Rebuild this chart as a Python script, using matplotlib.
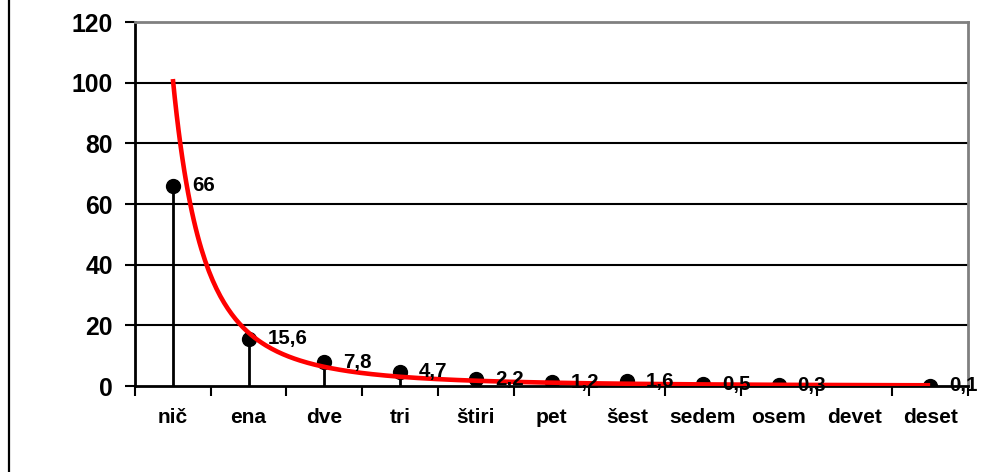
import numpy as np
import matplotlib
matplotlib.use("Agg")
import matplotlib.pyplot as plt
from matplotlib.lines import Line2D

categories = ["nič", "ena", "dve", "tri", "štiri", "pet", "šest", "sedem", "osem", "devet", "deset"]
values = [66, 15.6, 7.8, 4.7, 2.2, 1.2, 1.6, 0.5, 0.3, np.nan, 0.1]
value_labels = ["66", "15,6", "7,8", "4,7", "2,2", "1,2", "1,6", "0,5", "0,3", "", "0,1"]
y_ticks = [0, 20, 40, 60, 80, 100, 120]

plt.rcParams['font.family'] = ['Liberation Sans', 'DejaVu Sans']
plt.rcParams['font.weight'] = 'bold'

W, H = 999, 472
fig = plt.figure(figsize=(W / 100, H / 100), dpi=100)
ax = fig.add_axes([135 / W, 1 - 386 / H, (968 - 135) / W, (386 - 22) / H])

n = len(categories)
x = np.arange(1, n + 1)
vals = np.array(values, dtype=float)
mask = ~np.isnan(vals)

# stems
for xi, v in zip(x[mask], vals[mask]):
    ax.plot([xi, xi], [0, v], color='black', lw=2, zorder=3, solid_capstyle='butt')
# markers
ax.plot(x[mask], vals[mask], 'o', color='black', markersize=10, zorder=4)

# power trendline (fitted from the data)
b, a = np.polyfit(np.log(x[mask]), np.log(vals[mask]), 1)
xf = np.linspace(1, n, 400)
ax.plot(xf, np.exp(a) * xf ** b, color='#ff0000', lw=3.3, zorder=5, solid_capstyle='butt')

# data labels
for xi, v, lab in zip(x, vals, value_labels):
    if np.isnan(v) or not lab:
        continue
    ax.annotate(lab, (xi, v), xytext=(19, 0), textcoords='offset pixels',
                ha='left', va='center', fontsize=14.8, fontweight='bold', zorder=6)

ax.set_xlim(0.5, n + 0.5)
ax.set_ylim(0, 120)
ax.set_yticks(y_ticks)
ax.set_yticklabels([str(t) for t in y_ticks], fontsize=17.8, fontweight='bold')

for t in y_ticks[1:-1]:
    ax.axhline(t, color='black', lw=1.5, zorder=1)

ax.set_xticks(np.arange(0.5, n + 1.5, 1.0))
ax.set_xticklabels([])
ax.set_xticks(x, minor=True)
ax.set_xticklabels(categories, minor=True, fontsize=15, fontweight='bold')
ax.tick_params(axis='x', which='major', direction='out', length=7, width=1.5, color='black')
ax.tick_params(axis='x', which='minor', length=0, pad=16)
ax.tick_params(axis='y', direction='out', length=7, width=1.5, pad=9)

ax.spines['left'].set_color('black')
ax.spines['left'].set_linewidth(2)
ax.spines['bottom'].set_color('black')
ax.spines['bottom'].set_linewidth(2)
ax.spines['top'].set_color('#808080')
ax.spines['top'].set_linewidth(2)
ax.spines['right'].set_color('#808080')
ax.spines['right'].set_linewidth(2)

# left figure border line
fig.add_artist(Line2D([8.5 / W, 8.5 / W], [0, 1], transform=fig.transFigure, color='black', lw=1.6))

fig.savefig("out.png", dpi=100)
